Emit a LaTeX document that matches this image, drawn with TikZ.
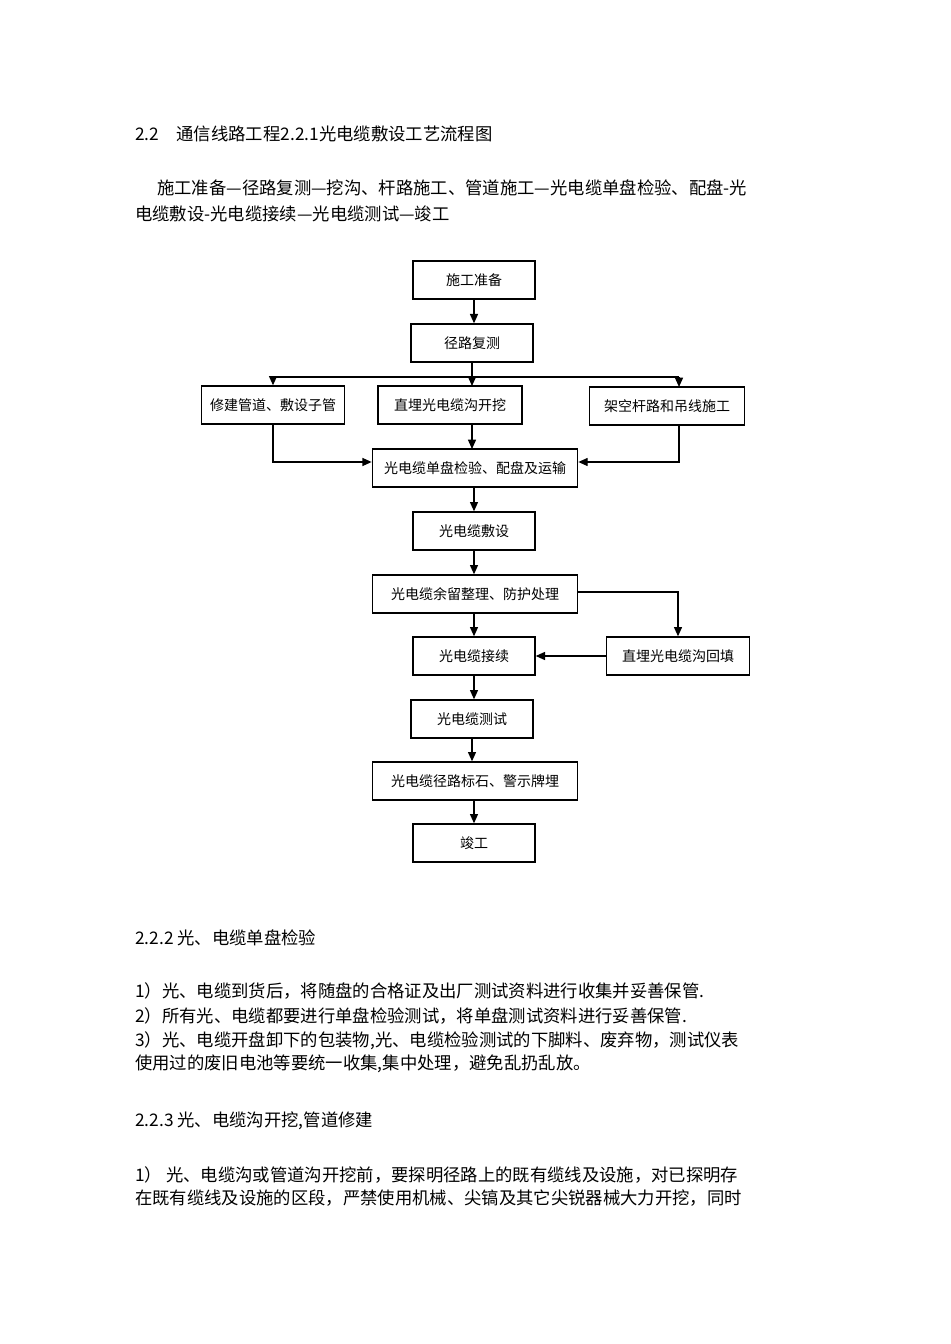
\documentclass[tikz,border=0pt]{standalone}
\usepackage{fontspec}
\newfontfamily\cjk{Noto Sans CJK SC}
\usetikzlibrary{arrows.meta}
\begin{document}
\begin{tikzpicture}[x=0.75pt,y=-0.75pt,
  box/.style={draw,line width=1pt,minimum height=28.5pt,inner sep=0pt,font=\cjk\fontsize{10.5}{12}\selectfont},
  arr/.style={line width=1pt,-{Triangle[length=7pt,width=6pt]}},
  ln/.style={line width=1pt},
  txt/.style={anchor=west,inner sep=0pt,font=\cjk\fontsize{13}{15}\selectfont}]
\useasboundingbox[fill=white] (0,0) rectangle (950,1344);
\node[txt] (h1) at (135,134) {2.2\quad 通信线路工程2.2.1光电缆敷设工艺流程图};
\node[txt] (p1) at (157,188) {施工准备—径路复测—挖沟、杆路施工、管道施工—光电缆单盘检验、配盘-光};
\node[txt] (p2) at (135,214) {电缆敷设-光电缆接续—光电缆测试—竣工};

\node[box,minimum width=91.5pt] (a) at (474,280) {施工准备};
\node[box,minimum width=91.5pt] (b) at (472,343) {径路复测};
\node[box,minimum width=107pt] (c1) at (273,405) {修建管道、敷设子管};
\node[box,minimum width=108pt] (c2) at (450,405) {直埋光电缆沟开挖};
\node[box,minimum width=116pt] (c3) at (667,406) {架空杆路和吊线施工};
\node[box,minimum width=154pt] (d) at (475,468) {光电缆单盘检验、配盘及运输};
\node[box,minimum width=91.5pt] (e) at (474,531) {光电缆敷设};
\node[box,minimum width=154pt] (f) at (475,594) {光电缆余留整理、防护处理};
\node[box,minimum width=91.5pt] (g) at (474,656) {光电缆接续};
\node[box,minimum width=107pt] (h) at (678,656) {直埋光电缆沟回填};
\node[box,minimum width=91.5pt] (i) at (472,719) {光电缆测试};
\node[box,minimum width=154pt] (j) at (475,781) {光电缆径路标石、警示牌埋};
\node[box,minimum width=91.5pt] (k) at (474,843) {竣工};

\coordinate (bus) at (472,377);
\draw[arr] (a) -- (a|-b.north);
\draw[ln] (b.south) -- (bus);
\draw[ln] (273,377) -- (679,377);
\draw[arr] (273,377) -- (c1.north);
\draw[arr] (472,377) -- (472,386);
\draw[arr] (679,377) -- (679,387);
\draw[arr] (c1.south) |- (d.west|-0,462);
\draw[arr] (679,425) |- (d.east|-0,462);
\draw[arr] (472,424) -- (472,449);
\draw[arr] (474,487) -- (e.north);
\draw[arr] (e) -- (f.north-|e);
\draw[arr] (f.east|-0,592) -| (h.north);
\draw[arr] (f.south-|g) -- (g);
\draw[arr] (h) -- (g);
\draw[arr] (g.south) -- (g.south|-i.north);
\draw[arr] (i.south) -- (i.south|-j.north);
\draw[arr] (j.south-|k) -- (k);

\node[txt] (s2) at (135,938) {2.2.2 光、电缆单盘检验};
\node[txt] (l1) at (135,991) {1）光、电缆到货后，将随盘的合格证及出厂测试资料进行收集并妥善保管.};
\node[txt] (l2) at (135,1016) {2）所有光、电缆都要进行单盘检验测试，将单盘测试资料进行妥善保管.};
\node[txt] (l3) at (135,1041) {3）光、电缆开盘卸下的包装物,光、电缆检验测试的下脚料、废弃物，测试仪表};
\node[txt] (l4) at (135,1064) {使用过的废旧电池等要统一收集,集中处理，避免乱扔乱放。};
\node[txt] (s3) at (135,1121) {2.2.3 光、电缆沟开挖,管道修建};
\node[txt] (m1) at (135,1175) {1）\ 光、电缆沟或管道沟开挖前，要探明径路上的既有缆线及设施，对已探明存};
\node[txt] (m2) at (135,1198) {在既有缆线及设施的区段，严禁使用机械、尖镐及其它尖锐器械大力开挖，同时};
\end{tikzpicture}
\end{document}
